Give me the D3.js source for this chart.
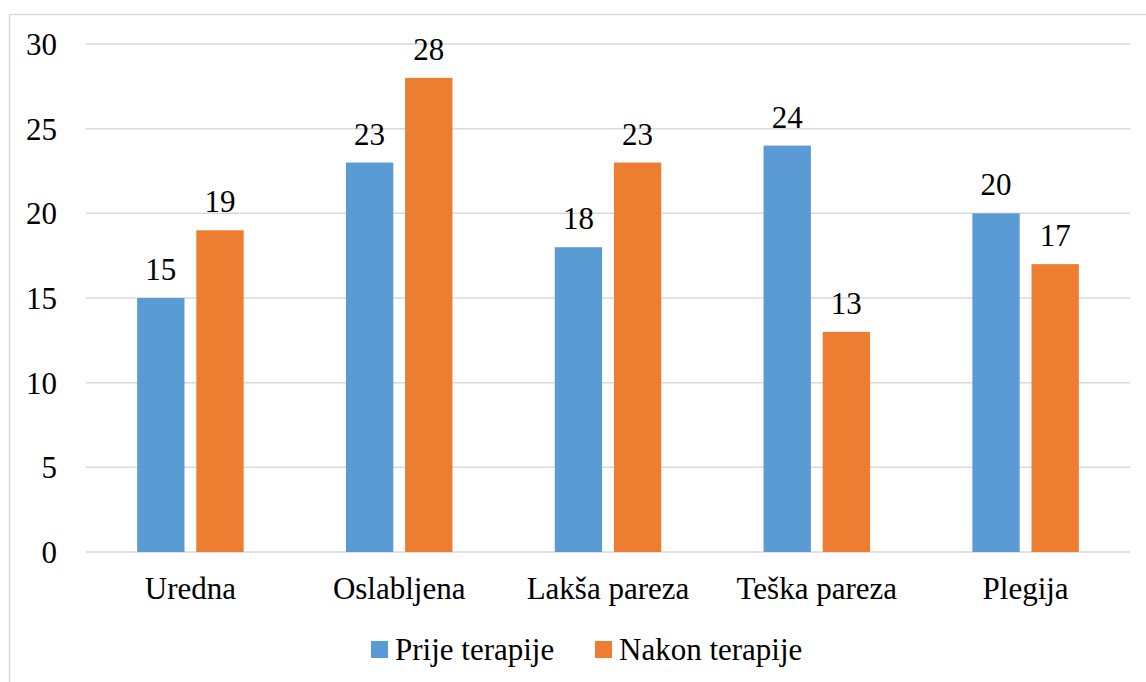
<!DOCTYPE html>
<html>
<head>
<meta charset="utf-8">
<script src="https://cdn.jsdelivr.net/npm/d3@7"></script>
<style>
  body { margin: 0; background: #fff; }
</style>
</head>
<body>
<div id="chart"></div>
<script>
var categories = ["Uredna", "Oslabljena", "Lakša pareza", "Teška pareza", "Plegija"];
var series = ["Prije terapije", "Nakon terapije"];
var prije = [15, 23, 18, 24, 20];
var nakon = [19, 28, 23, 13, 17];
var yTicks = [0, 5, 10, 15, 20, 25, 30];
var colors = ["#5B9BD5", "#ED7D31"];

var width = 1146, height = 682;
var plotLeft = 86, plotRight = 1130, plotTop = 44, plotBottom = 552;
var serif = "'Liberation Serif', 'Times New Roman', Times, serif";

var svg = d3.select("#chart").append("svg")
  .attr("width", width)
  .attr("height", height)
  .attr("font-family", serif)
  .attr("font-size", 31);

// outer frame
svg.append("rect")
  .attr("x", 9.5).attr("y", 14.5)
  .attr("width", width).attr("height", height)
  .attr("fill", "none")
  .attr("stroke", "#D9D9D9")
  .attr("stroke-width", 1.5);

var x0 = d3.scaleBand()
  .domain(categories)
  .range([plotLeft, plotRight])
  .paddingInner(0.49)
  .paddingOuter(0.245);

var x1 = d3.scaleBand()
  .domain(series)
  .range([0, x0.bandwidth()])
  .paddingInner(0.2);

var y = d3.scaleLinear()
  .domain([0, 30])
  .range([plotBottom, plotTop]);

// gridlines
svg.append("g")
  .selectAll("line")
  .data(yTicks)
  .enter().append("line")
  .attr("x1", plotLeft).attr("x2", plotRight)
  .attr("y1", function(d) { return y(d); })
  .attr("y2", function(d) { return y(d); })
  .attr("stroke", "#D9D9D9")
  .attr("stroke-width", 1.5);

// y tick labels
svg.append("g")
  .selectAll("text")
  .data(yTicks)
  .enter().append("text")
  .attr("x", 57)
  .attr("y", function(d) { return y(d); })
  .attr("dy", "0.35em")
  .attr("text-anchor", "end")
  .text(function(d) { return d; });

var rows = categories.map(function(c, i) {
  return { cat: c, vals: [prije[i], nakon[i]] };
});

var groups = svg.append("g")
  .selectAll("g")
  .data(rows)
  .enter().append("g")
  .attr("transform", function(d) { return "translate(" + x0(d.cat) + ",0)"; });

groups.selectAll("rect")
  .data(function(d) { return d.vals.map(function(v, j) { return { s: series[j], v: v, j: j }; }); })
  .enter().append("rect")
  .attr("x", function(d) { return x1(d.s); })
  .attr("y", function(d) { return y(d.v); })
  .attr("width", x1.bandwidth())
  .attr("height", function(d) { return y(0) - y(d.v); })
  .attr("fill", function(d) { return colors[d.j]; });

groups.selectAll("text")
  .data(function(d) { return d.vals.map(function(v, j) { return { s: series[j], v: v }; }); })
  .enter().append("text")
  .attr("x", function(d) { return x1(d.s) + x1.bandwidth() / 2; })
  .attr("y", function(d) { return y(d.v) - 18; })
  .attr("text-anchor", "middle")
  .text(function(d) { return d.v; });

// category labels
svg.append("g")
  .selectAll("text")
  .data(categories)
  .enter().append("text")
  .attr("x", function(d) { return x0(d) + x0.bandwidth() / 2; })
  .attr("y", 599)
  .attr("text-anchor", "middle")
  .text(function(d) { return d; });

// legend
var legendX = [371, 595];
var legend = svg.append("g")
  .selectAll("g")
  .data(series)
  .enter().append("g")
  .attr("transform", function(d, i) { return "translate(" + legendX[i] + ",641)"; });

legend.append("rect")
  .attr("width", 17).attr("height", 17)
  .attr("fill", function(d, i) { return colors[i]; });

legend.append("text")
  .attr("x", 24)
  .attr("y", 19)
  .text(function(d) { return d; });
</script>
</body>
</html>
